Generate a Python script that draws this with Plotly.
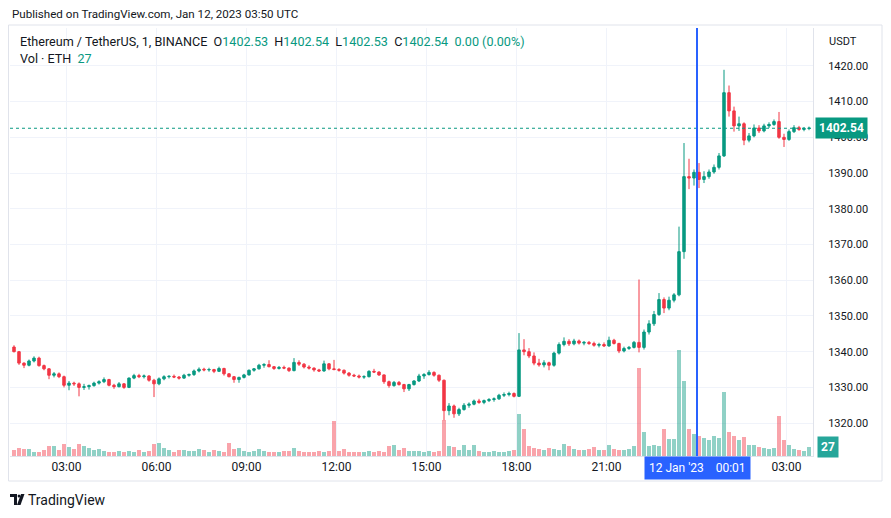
import pandas as pd
import plotly.graph_objects as go

# ---- data: ETH/USDT, 10-minute candles (start 2023-01-11 01:10 UTC) ----
start_time = "2023-01-11 01:15"
opens = [
 1341.3,1340.0,1336.8,1336.2,1337.4,1338.2,1336.1,1335.2,1333.4,1333.8,
 1333.0,1330.6,1331.2,1331.0,1330.0,1330.2,1330.5,1331.2,1331.6,1332.2,
 1330.6,1330.2,1331.0,1330.0,1332.6,1333.3,1333.0,1333.2,1332.0,1331.0,
 1332.4,1333.0,1333.1,1332.9,1332.6,1333.4,1333.6,1334.6,1335.1,1334.9,
 1335.0,1334.5,1335.3,1333.8,1333.0,1332.2,1332.8,1333.5,1334.8,1335.2,
 1336.2,1336.4,1335.8,1335.3,1335.6,1335.4,1334.7,1337.0,1336.5,1335.7,
 1335.4,1334.9,1334.6,1336.6,1335.2,1335.0,1334.8,1334.0,1333.4,1333.2,
 1332.9,1333.0,1334.5,1334.3,1333.5,1331.6,1330.5,1331.4,1330.8,1329.6,
 1330.8,1331.8,1333.2,1333.6,1334.2,1333.4,1332.0,1323.5,1324.8,1322.6,
 1323.8,1325.0,1325.3,1326.2,1325.8,1326.3,1326.6,1326.8,1327.8,1328.0,
 1328.3,1327.5,1340.5,1340.0,1338.8,1336.8,1336.3,1336.9,1336.2,1339.6,
 1342.0,1342.9,1342.2,1343.0,1342.4,1342.6,1342.3,1341.8,1342.0,1341.6,
 1343.2,1342.3,1340.2,1340.9,1341.2,1342.6,1341.2,1345.5,1347.8,1350.4,
 1354.6,1352.2,1354.4,1355.9,1368.0,1389.0,1388.6,1390.2,1388.2,1389.0,
 1390.3,1391.6,1394.8,1412.5,1407.4,1403.2,1403.8,1399.2,1400.4,1402.6,
 1401.8,1403.2,1403.6,1404.4,1400.0,1399.4,1401.6,1402.7,1402.2,1402.5,
]
highs = [
 1341.8,1340.2,1337.0,1337.8,1338.7,1338.6,1336.4,1335.4,1334.3,1334.2,
 1333.3,1331.8,1331.6,1331.4,1331.0,1330.8,1331.6,1332.0,1332.8,1332.4,
 1331.0,1331.5,1331.2,1332.8,1333.8,1333.8,1333.6,1333.4,1332.4,1332.8,
 1333.4,1333.4,1333.6,1333.2,1333.8,1333.9,1335.0,1335.6,1335.5,1335.5,
 1335.2,1335.8,1335.5,1334.0,1333.2,1333.0,1333.8,1335.0,1335.4,1336.6,
 1336.8,1337.6,1336.0,1336.0,1336.1,1335.6,1338.2,1337.6,1336.8,1336.2,
 1335.6,1335.2,1337.5,1336.8,1337.7,1335.4,1335.0,1334.3,1333.8,1333.6,
 1333.4,1334.8,1335.2,1334.5,1333.6,1331.9,1331.8,1331.8,1331.0,1331.0,
 1332.0,1333.8,1334.0,1334.8,1334.5,1333.6,1332.2,1325.6,1325.2,1324.3,
 1325.6,1325.8,1326.6,1326.8,1326.6,1327.0,1327.2,1328.2,1328.6,1328.8,
 1328.6,1345.2,1343.5,1341.0,1339.8,1338.0,1337.6,1337.2,1340.0,1342.6,
 1344.0,1343.5,1343.6,1343.4,1343.0,1343.0,1342.8,1342.5,1342.6,1344.2,
 1343.6,1342.5,1341.4,1341.6,1343.0,1360.2,1346.2,1348.8,1351.4,1356.4,
 1355.2,1355.4,1356.4,1375.0,1398.4,1394.0,1391.0,1392.8,1390.5,1391.0,
 1392.4,1395.6,1418.9,1414.5,1408.6,1405.8,1404.2,1401.2,1403.6,1403.4,
 1403.8,1404.2,1405.0,1407.1,1401.0,1402.2,1403.4,1403.2,1402.9,1403.0,
]
lows = [
 1339.8,1336.3,1335.4,1335.9,1337.0,1335.8,1334.8,1332.3,1332.8,1332.6,
 1330.0,1329.2,1330.4,1327.5,1329.3,1329.4,1330.2,1330.8,1331.2,1330.3,
 1329.6,1330.0,1329.6,1329.8,1332.3,1332.6,1332.5,1331.6,1327.3,1330.6,
 1332.0,1332.5,1332.6,1332.2,1332.4,1333.0,1333.2,1334.2,1334.5,1334.4,
 1334.0,1334.3,1333.3,1332.8,1331.3,1331.3,1332.5,1333.3,1334.4,1335.0,
 1335.5,1335.6,1334.9,1335.0,1335.1,1334.3,1334.5,1336.0,1335.3,1335.0,
 1334.4,1334.3,1334.4,1334.8,1334.8,1334.4,1333.6,1333.0,1332.9,1332.5,
 1332.4,1332.8,1334.1,1333.2,1331.0,1329.9,1330.2,1330.5,1328.7,1329.0,
 1330.5,1331.5,1332.4,1333.3,1333.0,1331.5,1320.8,1322.2,1321.5,1322.0,
 1323.5,1324.3,1325.0,1325.4,1325.3,1325.9,1326.0,1326.5,1327.3,1327.5,
 1327.2,1327.3,1339.0,1338.2,1336.2,1335.8,1335.6,1334.8,1335.8,1339.2,
 1341.5,1341.6,1341.8,1342.0,1341.8,1341.9,1341.4,1341.2,1341.3,1341.4,
 1342.0,1339.6,1339.8,1340.5,1340.9,1339.8,1340.6,1344.8,1347.2,1350.0,
 1350.8,1351.6,1353.8,1355.5,1366.0,1385.5,1386.5,1385.8,1387.2,1388.4,
 1389.8,1391.0,1394.5,1405.8,1401.6,1401.8,1397.8,1398.6,1400.0,1401.2,
 1401.4,1402.6,1403.2,1399.6,1397.3,1399.0,1401.2,1401.8,1401.7,1402.0,
]
closes = [
 1340.0,1336.8,1336.2,1337.4,1338.2,1336.1,1335.2,1333.4,1333.8,1333.0,
 1330.6,1331.2,1331.0,1330.0,1330.2,1330.5,1331.2,1331.6,1332.2,1330.6,
 1330.2,1331.0,1330.0,1332.6,1333.3,1333.0,1333.2,1332.0,1331.0,1332.4,
 1333.0,1333.1,1332.9,1332.6,1333.4,1333.6,1334.6,1335.1,1334.9,1335.0,
 1334.5,1335.3,1333.8,1333.0,1332.2,1332.8,1333.5,1334.8,1335.2,1336.2,
 1336.4,1335.8,1335.3,1335.6,1335.4,1334.7,1337.0,1336.5,1335.7,1335.4,
 1334.9,1334.6,1336.6,1335.2,1335.0,1334.8,1334.0,1333.4,1333.2,1332.9,
 1333.0,1334.5,1334.3,1333.5,1331.6,1330.5,1331.4,1330.8,1329.6,1330.8,
 1331.8,1333.2,1333.6,1334.2,1333.4,1332.0,1323.5,1324.8,1322.6,1323.8,
 1325.0,1325.3,1326.2,1325.8,1326.3,1326.6,1326.8,1327.8,1328.0,1328.3,
 1327.5,1340.5,1340.0,1338.8,1336.8,1336.3,1336.9,1336.2,1339.6,1342.0,
 1342.9,1342.2,1343.0,1342.4,1342.6,1342.3,1341.8,1342.0,1341.6,1343.2,
 1342.3,1340.2,1340.9,1341.2,1342.6,1341.2,1345.5,1347.8,1350.4,1354.6,
 1352.2,1354.4,1355.9,1368.0,1389.0,1388.6,1390.2,1388.2,1389.0,1390.3,
 1391.6,1394.8,1412.5,1407.4,1403.2,1403.8,1399.2,1400.4,1402.6,1401.8,
 1403.2,1403.6,1404.4,1400.0,1399.4,1401.6,1402.7,1402.2,1402.5,1402.54,
]
volumes = [
 18,24,21,21,12,12,18,30,30,18,
 36,27,21,36,30,24,18,21,15,12,
 12,15,12,15,12,18,12,15,36,39,
 24,18,12,18,18,15,15,21,18,12,
 18,15,12,39,21,24,15,12,15,21,
 15,12,12,12,15,15,24,15,12,12,
 12,15,12,15,105,15,21,12,12,12,
 12,15,12,15,12,30,33,18,24,15,
 15,15,12,15,12,15,108,30,27,18,
 33,18,33,15,12,12,15,12,12,15,
 18,126,81,30,24,21,18,24,21,18,
 36,30,21,18,18,21,27,18,18,33,
 21,18,18,21,30,264,72,30,33,30,
 81,51,51,318,225,81,66,60,54,48,
 60,54,192,72,60,48,57,33,33,27,
 24,21,24,120,48,33,21,18,15,27,
]
time_ticks = ["2023-01-11 03:00", "2023-01-11 06:00", "2023-01-11 09:00", "2023-01-11 12:00",
              "2023-01-11 15:00", "2023-01-11 18:00", "2023-01-11 21:00", "2023-01-12 00:00",
              "2023-01-12 03:00"]
time_tick_text = ["03:00", "06:00", "09:00", "12:00", "15:00", "18:00", "21:00", "", "03:00"]
price_ticks = [1320, 1330, 1340, 1350, 1360, 1370, 1380, 1390, 1400, 1410, 1420]
last_price = 1402.54
last_volume = 27
crosshair_time = "2023-01-12 00:01"

times = pd.date_range(start_time, periods=len(closes), freq="10min")

UP = "#089981"
DOWN = "#f23645"
vol_colors = ["rgba(8,153,129,0.45)" if c >= o else "rgba(242,54,69,0.45)"
              for o, c in zip(opens, closes)]

# the page body adds an 8px margin, so the figure is drawn 8px smaller and offset
OFF = 8
W, H = 891 - OFF, 518 - OFF
L, R, T, B = 10, 813, 28, 456   # plot area in reference (window) pixels


def px(x):
    return (x - L) / (R - L)


def py(y):
    return (B - y) / (B - T)


FONT = "Roboto, Arial, sans-serif"

fig = go.Figure()
fig.add_trace(go.Bar(x=times, y=volumes, marker_color=vol_colors, marker_line_width=0,
                     yaxis="y2", hoverinfo="skip", width=10 * 60 * 1000 * 0.9))
fig.add_trace(go.Candlestick(
    x=times, open=opens, high=highs, low=lows, close=closes,
    increasing=dict(line=dict(color=UP, width=1), fillcolor=UP),
    decreasing=dict(line=dict(color=DOWN, width=1), fillcolor=DOWN),
    whiskerwidth=0, yaxis="y"))

fig.update_layout(
    width=W, height=H,
    margin=dict(l=L - OFF, r=891 - R, t=T - OFF, b=518 - B, autoexpand=False),
    paper_bgcolor="white", plot_bgcolor="white",
    showlegend=False,
    font=dict(family=FONT, size=12, color="#131722"),
    bargap=0,
    xaxis=dict(type="date", range=["2023-01-11 01:07", "2023-01-12 03:53"],
               rangeslider=dict(visible=False),
               tickvals=time_ticks, ticktext=time_tick_text,
               showgrid=True, gridcolor="#f0f3fa", gridwidth=1,
               showline=True, linecolor="#e0e3eb", linewidth=1, mirror=False,
               ticks="", tickfont=dict(size=12, color="#131722"),
               zeroline=False),
    yaxis=dict(side="right", range=[1310.8, 1430.6], tickvals=price_ticks,
               tickformat=".2f", showgrid=True, gridcolor="#f0f3fa",
               showline=True, linecolor="#e0e3eb", ticks="",
               ticklabelstandoff=12,
               tickfont=dict(size=11, color="#131722"), zeroline=False),
    yaxis2=dict(overlaying="y", range=[0, 1290], visible=False, fixedrange=True),
)

shapes = []
# outer chart frame
shapes.append(dict(type="rect", xref="paper", yref="paper",
                   x0=px(8.5), x1=px(882), y0=py(481), y1=py(25),
                   line=dict(color="#e0e3eb", width=1), fillcolor="rgba(0,0,0,0)", layer="below"))
# last-price dotted line
shapes.append(dict(type="line", xref="paper", yref="y", x0=0, x1=1, y0=last_price, y1=last_price,
                   line=dict(color=UP, width=1, dash="dot")))
# crosshair vertical line
shapes.append(dict(type="line", xref="x", yref="paper", x0=crosshair_time, x1=crosshair_time,
                   y0=0, y1=1, line=dict(color="#2962ff", width=2)))
# TradingView logo (approximation)
shapes.append(dict(type="path", xref="paper", yref="paper",
                   path=f"M {px(10)} {py(494)} L {px(17)} {py(494)} L {px(17)} {py(505)} "
                        f"L {px(14)} {py(505)} L {px(14)} {py(497)} L {px(10)} {py(497)} Z",
                   fillcolor="#131722", line=dict(width=0)))
shapes.append(dict(type="circle", xref="paper", yref="paper",
                   x0=px(17.6), x1=px(20.4), y0=py(497.5), y1=py(494.5),
                   fillcolor="#131722", line=dict(width=0)))
shapes.append(dict(type="path", xref="paper", yref="paper",
                   path=f"M {px(21)} {py(494)} L {px(24.5)} {py(494)} L {px(20.5)} {py(505)} "
                        f"L {px(17)} {py(505)} Z",
                   fillcolor="#131722", line=dict(width=0)))
fig.update_layout(shapes=shapes)

G = "#089981"
ann = []
ann.append(dict(text="Published on TradingView.com, Jan 12, 2023 03:50 UTC",
                xref="paper", yref="paper", x=px(10), y=py(14), xanchor="left", yanchor="middle",
                showarrow=False, font=dict(size=11.6, color="#131722")))
ann.append(dict(text=(f"Ethereum / TetherUS, 1, BINANCE  O<span style='color:{G}'>1402.53</span>  "
                      f"H<span style='color:{G}'>1402.54</span>  L<span style='color:{G}'>1402.53</span>  "
                      f"C<span style='color:{G}'>1402.54</span>  <span style='color:{G}'>0.00 (0.00%)</span>"),
                xref="paper", yref="paper", x=px(18), y=py(41), xanchor="left", yanchor="middle",
                showarrow=False, font=dict(size=12.6, color="#131722")))
ann.append(dict(text=f"Vol · ETH  <span style='color:{G}'>{last_volume}</span>",
                xref="paper", yref="paper", x=px(18), y=py(59), xanchor="left", yanchor="middle",
                showarrow=False, font=dict(size=12.6, color="#131722")))
ann.append(dict(text="USDT", xref="paper", yref="paper", x=px(827), y=py(41),
                xanchor="left", yanchor="middle", showarrow=False,
                font=dict(size=11, color="#131722")))
ann.append(dict(text=f"<b>{last_price:.2f}</b>", xref="paper", yref="y", x=px(815), y=last_price,
                xanchor="left", yanchor="middle", showarrow=False, bgcolor=UP,
                borderpad=3, font=dict(size=12, color="white")))
ann.append(dict(text=f"<b>{last_volume}</b>", xref="paper", yref="y2", x=px(817), y=last_volume,
                xanchor="left", yanchor="middle", showarrow=False, bgcolor="#26a69a",
                borderpad=3, font=dict(size=12, color="white")))
ann.append(dict(text="12 Jan '23    00:01", xref="x", yref="paper", x=crosshair_time, y=py(468),
                xanchor="center", yanchor="middle", showarrow=False, bgcolor="#2962ff",
                borderpad=4, font=dict(size=12, color="white")))
ann.append(dict(text="TradingView", xref="paper", yref="paper", x=px(26), y=py(500),
                xanchor="left", yanchor="middle", showarrow=False,
                font=dict(size=14, color="#131722")))
fig.update_layout(annotations=ann)

fig.write_html("out.html")
